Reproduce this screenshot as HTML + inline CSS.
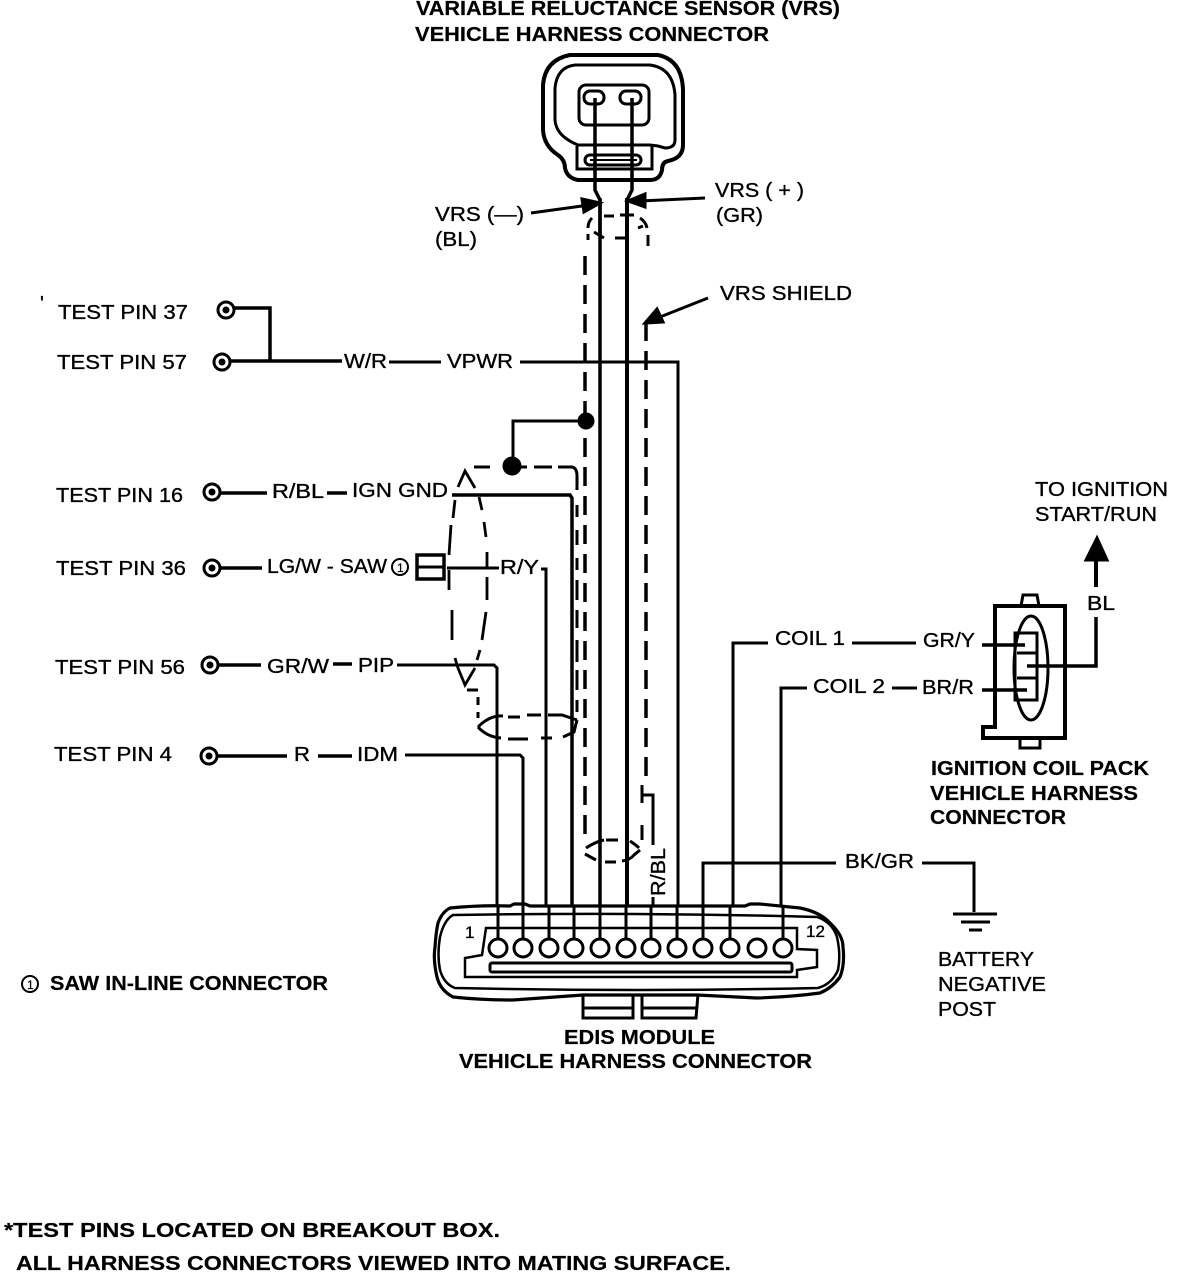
<!DOCTYPE html>
<html><head><meta charset="utf-8"><style>
html,body{margin:0;padding:0;background:#fff}
svg{display:block}
text{font-family:"Liberation Sans",sans-serif;font-size:20px;fill:#000;stroke:#000;stroke-width:.35px}
.b{font-weight:bold;stroke-width:.2px}
path,line,circle,ellipse,rect{fill:none;stroke:#000;stroke-width:3}
.t{stroke-width:4}
.d{stroke-width:3.5;stroke-dasharray:19 10}
.f{fill:#000}
.w{fill:#fff}
</style></head><body>
<svg width="1184" height="1274" viewBox="0 0 1184 1274" xmlns="http://www.w3.org/2000/svg">
<!-- top connector -->
<path class="t" d="M570 55H658Q682 60 683 90V145Q683 158 668 161Q662 162 662 170Q660 180 650 180H578Q567 178 565 168Q565 160 558 155Q544 146 543 130V85Q545 60 570 55Z"/>
<path d="M575 65H650Q673 68 675 95V140Q675 148 665 148L658 146L650 145H578Q556 136 555 120V88Q557 67 575 65Z"/>
<rect x="579" y="85" width="70" height="40" rx="7"/>
<rect x="584" y="91" width="20" height="13" rx="6"/>
<rect x="620" y="91" width="21" height="13" rx="6"/>
<path d="M577 146V169H652V146"/>
<rect x="585" y="155" width="56" height="10" rx="5"/>
<path d="M590 160H637" style="stroke-width:2"/>
<path style="stroke-width:3.5" d="M595 98V190L600 200V236"/>
<path style="stroke-width:3.5" d="M632 98V190L627 200"/>
<line x1="600" y1="198" x2="600" y2="905" style="stroke-width:3.5"/>
<line x1="627" y1="198" x2="627" y2="905" style="stroke-width:4"/>
<!-- shield dashes -->
<path style="stroke-width:3" d="M592 218Q588 222 588 228M588 234V240M604 216H614M620 215H634M640 218Q646 222 647 228M648 235V246M638 228L643 226M594 232L604 238M615 238H627"/>
<path class="d" d="M585 256V420"/>
<path class="d" d="M585 438V842"/>
<path class="d" d="M646 322V785"/>
<path d="M642 825V840" style="stroke-width:3"/>
<path d="M586 848Q595 842 604 840M606 840H618M630 841Q636 845 639 848M585 854L596 860M605 862H616M622 861Q630 860 634 855L640 850"/>
<!-- arrows -->
<path d="M531 213L582 206"/><path class="f" d="M600 203L582 199L584 212Z"/>
<path d="M705 198L640 201"/><path class="f" d="M628 201L645 194L645 207Z"/>
<path d="M708 298L660 317"/><path class="f" d="M645 323L657 309L663 322Z"/>
<!-- test pins left -->
<circle cx="226" cy="310" r="8"/><circle cx="226" cy="310" r="2" class="f"/>
<circle cx="222" cy="362" r="8"/><circle cx="222" cy="362" r="2" class="f"/>
<path style="stroke-width:3.5" d="M234 308H270V361M231 361H342"/>
<path d="M389 362H441M520 362H678V905"/>
<circle cx="212" cy="492" r="8"/><circle cx="212" cy="492" r="2" class="f"/>
<circle cx="212" cy="568" r="8"/><circle cx="212" cy="568" r="2" class="f"/>
<circle cx="210" cy="665" r="8"/><circle cx="210" cy="665" r="2" class="f"/>
<circle cx="209" cy="756" r="8"/><circle cx="209" cy="756" r="2" class="f"/>
<path style="stroke-width:3.5" d="M220 493H267M327 493H347M220 568H262M218 665H261M333 664H352M218 756H287M318 756H352"/>
<path d="M452 495H570L572 498V905" style="stroke-width:3.5"/>
<path d="M397 665H494L497 668V905"/>
<path d="M405 755H520L523 758V905"/>
<path d="M447 568H499M541 569H546V905"/>
<rect x="417" y="555" width="27" height="24" style="stroke-width:3.5"/><line x1="417" y1="567" x2="444" y2="567"/>
<!-- shield/dots -->
<path d="M513 466V421H585"/>
<circle class="f" cx="586" cy="421" r="7"/>
<circle class="f" cx="512" cy="466" r="8"/>
<path d="M474 467H490M520 467H527M534 467H552M558 467H572Q577 468 577 476V490M577 505V517M577 530V545M577 558V570M577 580V600M577 610V628M577 640V662M577 670V690M577 700V712"/>
<path d="M458 487L465 471L475 488M479 497L482 510M484 522L486 537M487 552V567M487 577V600M486 612L482 640M480 650L477 660M475 668L465 685L458 668L455 658M452 640V610M449 590V570M449 555L451 525M453 518L455 500" style="stroke-width:2.8"/>
<path d="M467 690H478M478 697V705M478 712V718M478 727Q490 715 503 716M508 717H520M527 715H541M548 715H562L577 720M577 720L574 732L563 737M552 738H541M528 739H508M501 738Q487 737 478 727" style="stroke-width:3"/>
<!-- bottom R/BL -->
<path d="M642 785V803M642 795H653V845M653 897V905"/>
<!-- right wires -->
<path d="M768 643H733V905"/>
<path d="M852 643H916"/>
<path d="M807 688H781V905"/>
<path d="M892 688H917"/>
<path d="M703 905V863H836M922 863H974V912"/>
<!-- ground -->
<path d="M953 914H997M961 922H990M969 930H982"/>
<!-- coil connector -->
<path class="t" d="M995 606H1065V738H983V727H995Z"/>
<path d="M1021 606L1023 595H1037L1039 606M1020 738V748H1040V738"/>
<ellipse cx="1031" cy="668" rx="17" ry="52"/>
<rect x="1015" y="633" width="22" height="67"/>
<path d="M1017 653H1037M1017 678H1037" style="stroke-width:3"/>
<path d="M982 645H1025M982 690H1027" style="stroke-width:3.5"/>
<path d="M1027 666H1096V617" style="stroke-width:3.5"/>
<path d="M1096 587V558" style="stroke-width:4"/>
<path class="f" d="M1097 538L1107 560H1086Z"/>
<!-- EDIS connector -->
<path style="stroke-width:3.2" d="M450 908Q480 905 510 906L514 904H525L530 906H745L750 904H760L800 908Q820 912 830 923Q843 935 843 947Q845 965 840 977Q832 988 820 993Q790 997 757 998L697 995H583L513 1000Q480 1000 453 997Q440 990 437 977Q433 960 435 947Q436 932 438 923Q442 912 450 908Z"/>
<path d="M453 915Q640 912 817 917Q832 922 837 937Q841 955 838 970Q832 984 818 988Q640 992 455 988Q444 984 440 970Q437 955 440 937Q444 920 453 915Z" style="stroke-width:2.5"/>
<path d="M486 928H797V949L817 950V967L797 970V977H465V958L482 955Z" style="stroke-width:2.5"/>
<rect x="490" y="963" width="302" height="9" rx="2"/>
<g class="w">
<circle class="w" cx="498" cy="948" r="9"/><circle class="w" cx="523" cy="948" r="9"/><circle class="w" cx="549" cy="948" r="9"/><circle class="w" cx="574" cy="948" r="9"/><circle class="w" cx="600" cy="948" r="9"/><circle class="w" cx="626" cy="948" r="9"/><circle class="w" cx="651" cy="948" r="9"/><circle class="w" cx="677" cy="948" r="9"/><circle class="w" cx="703" cy="948" r="9"/><circle class="w" cx="730" cy="948" r="9"/><circle class="w" cx="757" cy="948" r="9"/><circle class="w" cx="783" cy="948" r="9"/>
</g>
<path d="M498 905V940M523 905V940M549 905V940M574 905V940M600 905V940M626 905V940M651 905V940M677 905V940M703 905V940M730 905V940M783 905V940"/>
<path d="M583 994V1018H633V994M583 1008H633M642 994V1018H696L698 994M642 1008H696"/>
<!-- text -->
<text class="b" x="416" y="15" textLength="424" lengthAdjust="spacingAndGlyphs">VARIABLE RELUCTANCE SENSOR (VRS)</text>
<text class="b" x="415" y="41" textLength="354" lengthAdjust="spacingAndGlyphs">VEHICLE HARNESS CONNECTOR</text>
<text x="715" y="197" textLength="89" lengthAdjust="spacingAndGlyphs">VRS ( + )</text>
<text x="716" y="222" textLength="47" lengthAdjust="spacingAndGlyphs">(GR)</text>
<text x="435" y="221" textLength="89" lengthAdjust="spacingAndGlyphs">VRS (—)</text>
<text x="435" y="246" textLength="42" lengthAdjust="spacingAndGlyphs">(BL)</text>
<text x="720" y="300" textLength="132" lengthAdjust="spacingAndGlyphs">VRS SHIELD</text>
<text x="40" y="310" font-size="14">'</text>
<text x="58" y="319" textLength="130" lengthAdjust="spacingAndGlyphs">TEST PIN 37</text>
<text x="57" y="369" textLength="130" lengthAdjust="spacingAndGlyphs">TEST PIN 57</text>
<text x="344" y="368" textLength="43" lengthAdjust="spacingAndGlyphs">W/R</text>
<text x="447" y="368" textLength="66" lengthAdjust="spacingAndGlyphs">VPWR</text>
<text x="56" y="502" textLength="127" lengthAdjust="spacingAndGlyphs">TEST PIN 16</text>
<text x="272" y="498" textLength="52" lengthAdjust="spacingAndGlyphs">R/BL</text>
<text x="352" y="497" textLength="96" lengthAdjust="spacingAndGlyphs">IGN GND</text>
<text x="56" y="575" textLength="130" lengthAdjust="spacingAndGlyphs">TEST PIN 36</text>
<text x="267" y="573" textLength="120" lengthAdjust="spacingAndGlyphs">LG/W - SAW</text>
<circle cx="400" cy="567" r="8" style="stroke-width:2"/>
<text x="397" y="572" style="font-size:12px;stroke-width:.2px">1</text>
<text x="500" y="574" textLength="39" lengthAdjust="spacingAndGlyphs">R/Y</text>
<text x="55" y="674" textLength="130" lengthAdjust="spacingAndGlyphs">TEST PIN 56</text>
<text x="267" y="673" textLength="62" lengthAdjust="spacingAndGlyphs">GR/W</text>
<text x="358" y="672" textLength="36" lengthAdjust="spacingAndGlyphs">PIP</text>
<text x="54" y="761" textLength="118" lengthAdjust="spacingAndGlyphs">TEST PIN 4</text>
<text x="294" y="761" textLength="16" lengthAdjust="spacingAndGlyphs">R</text>
<text x="357" y="761" textLength="41" lengthAdjust="spacingAndGlyphs">IDM</text>
<text x="775" y="645" textLength="70" lengthAdjust="spacingAndGlyphs">COIL 1</text>
<text x="923" y="647" textLength="52" lengthAdjust="spacingAndGlyphs">GR/Y</text>
<text x="813" y="693" textLength="72" lengthAdjust="spacingAndGlyphs">COIL 2</text>
<text x="922" y="694" textLength="52" lengthAdjust="spacingAndGlyphs">BR/R</text>
<text x="1087" y="610" textLength="28" lengthAdjust="spacingAndGlyphs">BL</text>
<text x="1035" y="496" textLength="133" lengthAdjust="spacingAndGlyphs">TO IGNITION</text>
<text x="1035" y="521" textLength="122" lengthAdjust="spacingAndGlyphs">START/RUN</text>
<text class="b" x="931" y="775" textLength="218" lengthAdjust="spacingAndGlyphs">IGNITION COIL PACK</text>
<text class="b" x="930" y="800" textLength="208" lengthAdjust="spacingAndGlyphs">VEHICLE HARNESS</text>
<text class="b" x="930" y="824" textLength="136" lengthAdjust="spacingAndGlyphs">CONNECTOR</text>
<text x="845" y="868" textLength="69" lengthAdjust="spacingAndGlyphs">BK/GR</text>
<text x="938" y="966" textLength="96" lengthAdjust="spacingAndGlyphs">BATTERY</text>
<text x="938" y="991" textLength="108" lengthAdjust="spacingAndGlyphs">NEGATIVE</text>
<text x="938" y="1016" textLength="58" lengthAdjust="spacingAndGlyphs">POST</text>
<text transform="translate(665,896) rotate(-90)" textLength="48" lengthAdjust="spacingAndGlyphs">R/BL</text>
<text x="465" y="938" style="font-size:17px">1</text>
<text x="806" y="937" style="font-size:17px">12</text>
<circle cx="30" cy="984" r="8" style="stroke-width:2"/>
<text x="27" y="989" style="font-size:12px;stroke-width:.2px">1</text>
<text class="b" x="50" y="990" textLength="278" lengthAdjust="spacingAndGlyphs">SAW IN-LINE CONNECTOR</text>
<text class="b" x="564" y="1044" textLength="151" lengthAdjust="spacingAndGlyphs">EDIS MODULE</text>
<text class="b" x="459" y="1068" textLength="353" lengthAdjust="spacingAndGlyphs">VEHICLE HARNESS CONNECTOR</text>
<text class="b" x="4" y="1237" textLength="496" lengthAdjust="spacingAndGlyphs">*TEST PINS LOCATED ON BREAKOUT BOX.</text>
<text class="b" x="16" y="1270" textLength="715" lengthAdjust="spacingAndGlyphs">ALL HARNESS CONNECTORS VIEWED INTO MATING SURFACE.</text>
</svg>
</body></html>
